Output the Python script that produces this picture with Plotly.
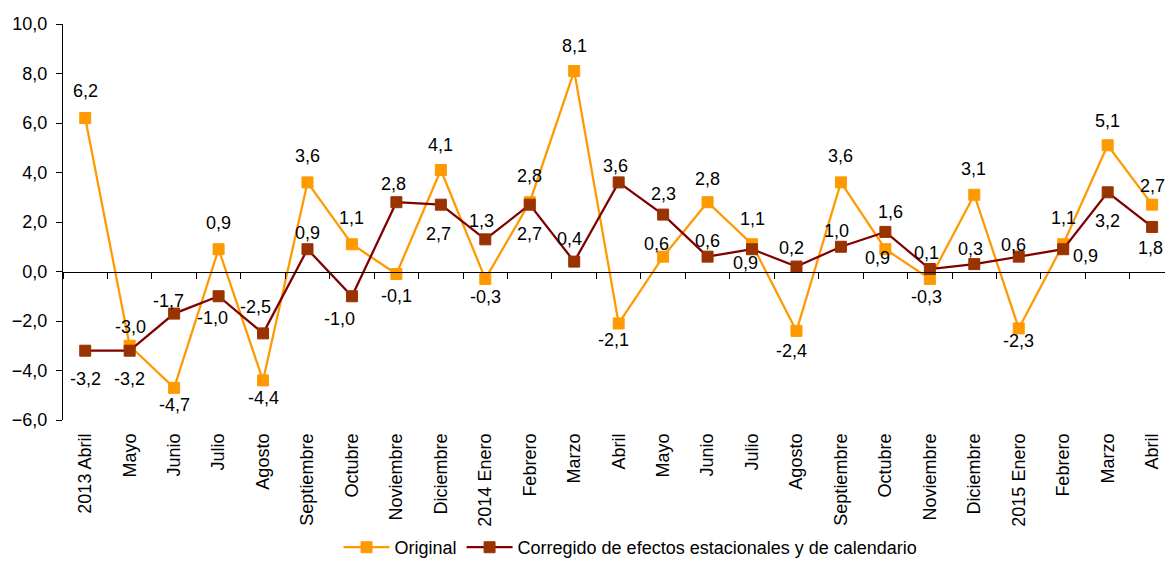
import plotly.graph_objects as go

categories = ["2013 Abril", "Mayo", "Junio", "Julio", "Agosto", "Septiembre", "Octubre",
              "Noviembre", "Diciembre", "2014 Enero", "Febrero", "Marzo", "Abril", "Mayo",
              "Junio", "Julio", "Agosto", "Septiembre", "Octubre", "Noviembre", "Diciembre",
              "2015 Enero", "Febrero", "Marzo", "Abril"]
original = [6.2, -3.0, -4.7, 0.9, -4.4, 3.6, 1.1, -0.1, 4.1, -0.3, 2.8, 8.1, -2.1, 0.6,
            2.8, 1.1, -2.4, 3.6, 0.9, -0.3, 3.1, -2.3, 1.1, 5.1, 2.7]
corregido = [-3.2, -3.2, -1.7, -1.0, -2.5, 0.9, -1.0, 2.8, 2.7, 1.3, 2.7, 0.4, 3.6, 2.3,
             0.6, 0.9, 0.2, 1.0, 1.6, 0.1, 0.3, 0.6, 0.9, 3.2, 1.8]
y_ticks = [-6, -4, -2, 0, 2, 4, 6, 8, 10]

# label offsets in pixels (dx, dy with dy positive = downward)
orig_off = [(0, -28), (1, -20), (0, 16), (0, -27), (0, 17), (0, -27), (0, -27), (0, 21),
            (0, -26), (0, 17), (0, -27), (0, -26), (-5, 16), (-7, -14), (0, -24), (0, -26),
            (-5, 19), (0, -27), (-8, 8), (-3, 17), (-1, -27), (0, 12), (0, -27), (0, -25),
            (0, -20)]
corr_off = [(0, 27), (0, 27), (-6, -14), (-6, 21), (-8, -27), (0, -17), (-12, 22), (-3, -19),
            (-2, 28), (-4, -19), (0, 28), (-5, -24), (-3, -17), (0, -22), (0, -17), (-7, 13),
            (-5, -20), (-4, -17), (5, -21), (-3, -17), (-4, -16), (-5, -13), (22, 6), (0, 28),
            (-2, 20)]

FONT = "Arial, Liberation Sans, sans-serif"
ORANGE = "#FF9900"
DARKRED = "#800000"
BROWN = "#993300"

xs = list(range(len(categories)))

fig = go.Figure()
fig.add_trace(go.Scatter(
    x=xs, y=original, mode="lines+markers", name="Original",
    line=dict(color=ORANGE, width=2.25),
    marker=dict(symbol="square", size=11, color=ORANGE, line=dict(color=ORANGE, width=1)),
    hoverinfo="skip"))
fig.add_trace(go.Scatter(
    x=xs, y=corregido, mode="lines+markers",
    name="Corregido de efectos estacionales y de calendario",
    line=dict(color=DARKRED, width=2.25),
    marker=dict(symbol="square", size=11, color=BROWN, line=dict(color=BROWN, width=1)),
    hoverinfo="skip"))
# invisible helper trace to materialise the zero-line axis
fig.add_trace(go.Scatter(x=xs, y=[0] * len(xs), xaxis="x2", mode="lines",
                         line=dict(width=0), opacity=0, showlegend=False, hoverinfo="skip"))

def fmt(v):
    return f"{v:.1f}".replace(".", ",")

annotations = []
for vals, offs in ((original, orig_off), (corregido, corr_off)):
    for i, v in enumerate(vals):
        dx, dy = offs[i]
        dy = dy + 1
        annotations.append(dict(x=i, y=v, xref="x", yref="y", text=fmt(v), showarrow=False,
                                xanchor="center", yanchor="middle", xshift=dx, yshift=-dy,
                                font=dict(family=FONT, size=18, color="#000000")))

xrange = [-0.5, 24.29]
fig.update_layout(
    width=1165, height=561,
    margin=dict(l=63, r=0, t=24, b=141, autoexpand=False),
    paper_bgcolor="white", plot_bgcolor="white",
    font=dict(family=FONT, size=18, color="#000000"),
    separators=",.",
    showlegend=True,
    legend=dict(orientation="h", x=0.515, xanchor="center", yref="container", y=0.024,
                yanchor="middle",
                font=dict(family=FONT, size=18, color="#000000"), itemwidth=46,
                bgcolor="rgba(0,0,0,0)"),
    xaxis=dict(range=xrange, tickvals=xs, ticktext=categories, tickangle=-90,
               showgrid=False, zeroline=False, showline=False, ticks="", automargin=False,
               ticklabelstandoff=9, tickfont=dict(family=FONT, size=18, color="#000000")),
    xaxis2=dict(range=xrange, overlaying="x", anchor="free", position=0.375, side="bottom",
                tick0=-0.5, dtick=1, ticks="outside", ticklen=6, tickcolor="#000000",
                showticklabels=False, showline=True, linecolor="#000000", linewidth=1,
                showgrid=False, zeroline=False, automargin=False),
    yaxis=dict(range=[-6, 10], tickvals=y_ticks, tickformat=".1f", ticks="outside",
               ticklen=6, tickcolor="#000000", showline=True, linecolor="#000000",
               linewidth=1, showgrid=False, zeroline=False, ticklabelstandoff=5,
               automargin=False, tickfont=dict(family=FONT, size=18, color="#000000")),
    annotations=annotations,
)

fig.write_html("out.html", config={"displayModeBar": False},
               post_script="document.body.style.margin='0';document.body.style.overflow='hidden';")
